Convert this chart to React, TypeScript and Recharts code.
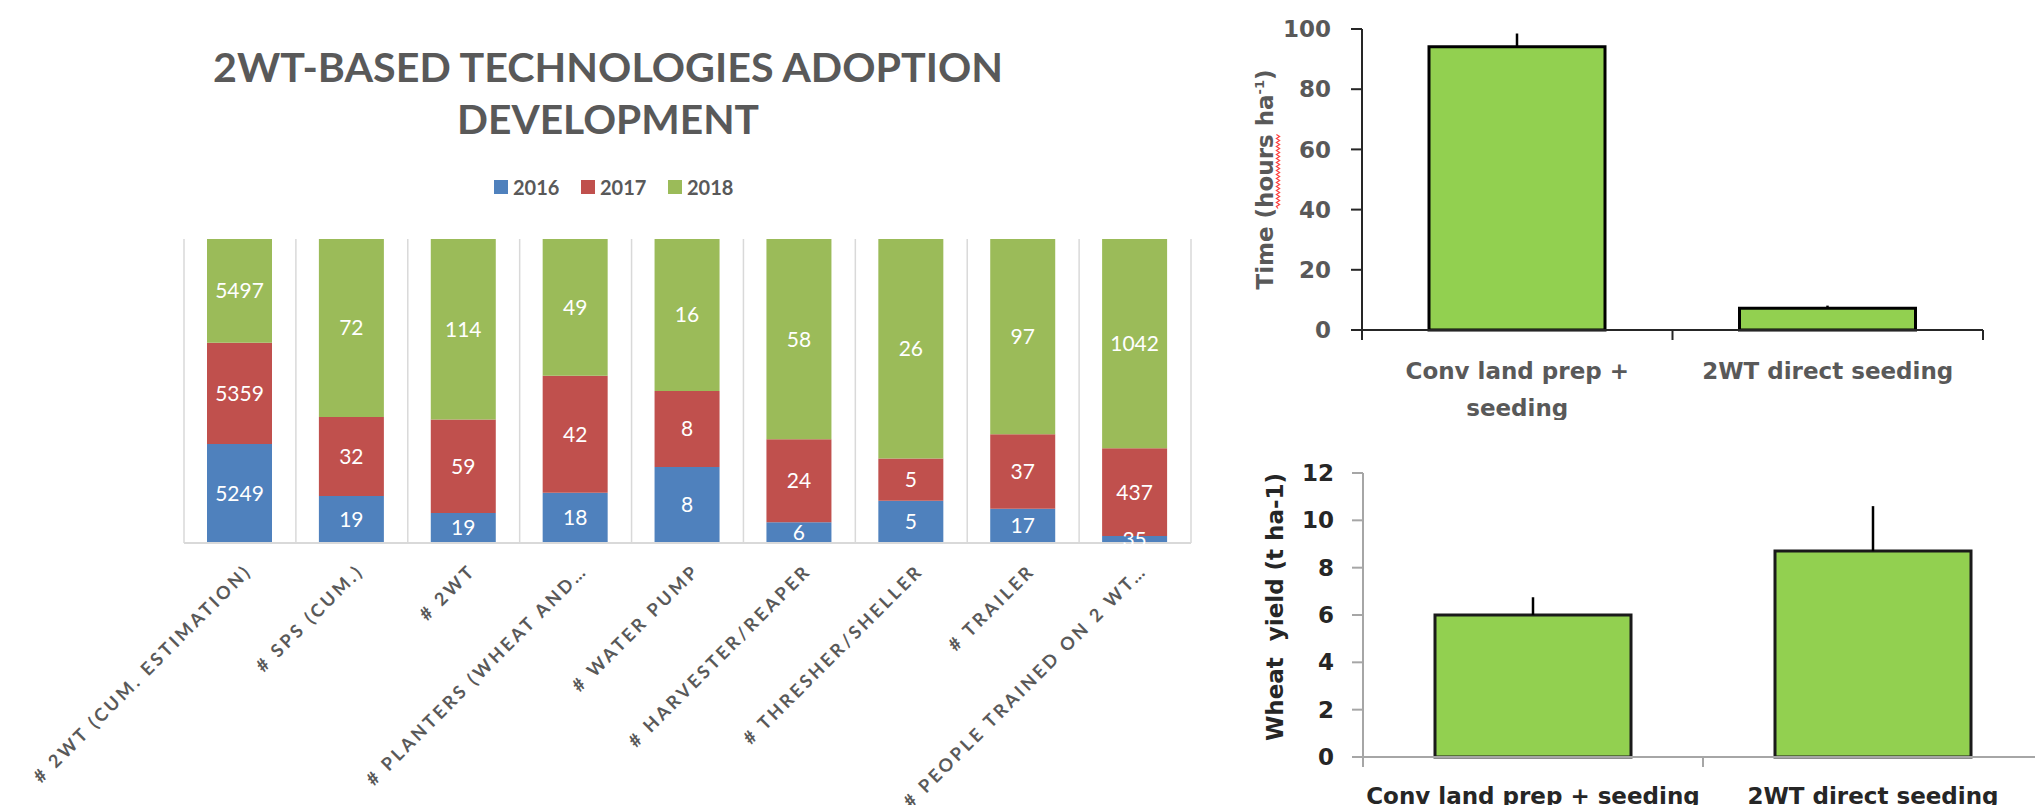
import React from 'react';
import { BarChart, Bar, XAxis, YAxis, CartesianGrid, LabelList, ErrorBar } from 'recharts';

// ---------- Chart 1: 2WT-based technologies adoption (100% stacked) ----------
const adoptionCategories = [
  '# 2WT (CUM. ESTIMATION)',
  '# SPS (CUM.)',
  '# 2WT',
  '# PLANTERS (WHEAT AND…',
  '# WATER PUMP',
  '# HARVESTER/REAPER',
  '# THRESHER/SHELLER',
  '# TRAILER',
  '# PEOPLE TRAINED ON 2 WT…',
];
const adoption2016 = [5249, 19, 19, 18, 8, 6, 5, 17, 35];
const adoption2017 = [5359, 32, 59, 42, 8, 24, 5, 37, 437];
const adoption2018 = [5497, 72, 114, 49, 16, 58, 26, 97, 1042];
const adoptionSeriesNames = ['2016', '2017', '2018'];
const adoptionSeriesKeys = ['s2016', 's2017', 's2018'];
const adoptionColors = ['#4F81BD', '#C0504D', '#9BBB59'];
const adoptionTitleLines = ['2WT-BASED TECHNOLOGIES ADOPTION', 'DEVELOPMENT'];

// ---------- Chart 2: time ----------
const methods = ['Conv land prep + seeding', '2WT direct seeding'];
const timeMeans = [94.1, 7.2];
const timeErrors = [4.4, 0.9];
const timeTicks = [0, 20, 40, 60, 80, 100];
const timeTickLines = [['Conv land prep +', 'seeding'], ['2WT direct seeding']];

// ---------- Chart 3: wheat yield ----------
const yieldMeans = [6.0, 8.7];
const yieldErrors = [0.75, 1.9];
const yieldTicks = [0, 2, 4, 6, 8, 10, 12];
const yieldTickLines = [['Conv land prep + seeding'], ['2WT direct seeding']];

const adoptionData = adoptionCategories.map((name, i) => ({
  name,
  s2016: adoption2016[i],
  s2017: adoption2017[i],
  s2018: adoption2018[i],
}));
const timeData = methods.map((name, i) => ({ name, value: timeMeans[i], err: [0, timeErrors[i]] }));
const yieldData = methods.map((name, i) => ({ name, value: yieldMeans[i], err: [0, yieldErrors[i]] }));

const RIGHT_FONT = 'DejaVu Sans, sans-serif';

function AdoptionTick(props: any) {
  const { x, y, payload } = props;
  return (
    <g transform={`translate(${x + 13},${y + 29})`}>
      <text
        transform="rotate(-45)"
        textAnchor="end"
        fontFamily="Lato, sans-serif"
        fontWeight={700}
        fontSize={18}
        letterSpacing={3.1}
        fill="#595959"
      >
        {payload.value}
      </text>
    </g>
  );
}

function MethodTick(props: any) {
  const { x, y, payload, index, lines, lineColor, textColor, firstBaseline, lineGap, count } = props;
  const half = payload && payload.offset ? payload.offset : 0;
  const myLines: string[] = lines[index] || [String(payload.value)];
  return (
    <g>
      <line x1={x - half} y1={y} x2={x - half} y2={y + 10} stroke={lineColor} strokeWidth={2} />
      {index === count - 1 ? (
        <line x1={x + half} y1={y} x2={x + half} y2={y + 10} stroke={lineColor} strokeWidth={2} />
      ) : null}
      <text
        x={x}
        y={y + firstBaseline}
        textAnchor="middle"
        fontFamily={RIGHT_FONT}
        fontWeight={700}
        fontSize={23}
        fill={textColor}
      >
        {myLines.map((l, i) => (
          <tspan key={i} x={x} dy={i === 0 ? 0 : lineGap}>
            {l}
          </tspan>
        ))}
      </text>
    </g>
  );
}

function wavyPath(x0: number, x1: number, y: number) {
  let d = `M${x0},${y}`;
  let up = true;
  for (let x = x0 + 2; x <= x1; x += 2) {
    d += ` L${x},${y + (up ? -1.6 : 1.6)}`;
    up = !up;
  }
  return d;
}

function TimeYLabel(props: any) {
  const vb = props.viewBox || {};
  const cx = vb.x + 11;
  const cy = vb.y + vb.height / 2;
  return (
    <g transform={`translate(${cx},${cy}) rotate(-90)`}>
      <text textAnchor="middle" fontFamily={RIGHT_FONT} fontWeight={700} fontSize={23} fill="#595959">
        Time (hours ha
        <tspan dy={-9} fontSize={13}>
          -1
        </tspan>
        <tspan dy={9}>)</tspan>
      </text>
      <path d={wavyPath(-29, 45, 5)} fill="none" stroke="#FF4040" strokeWidth={1.2} />
    </g>
  );
}

function YieldYLabel(props: any) {
  const vb = props.viewBox || {};
  const cx = vb.x + 20;
  const cy = vb.y + vb.height / 2 - 8;
  return (
    <text
      transform={`translate(${cx},${cy}) rotate(-90)`}
      textAnchor="middle"
      fontFamily={RIGHT_FONT}
      fontWeight={700}
      fontSize={23}
      fill="#262626"
      style={{ whiteSpace: 'pre' }}
    >
      {'Wheat  yield (t ha-1)'}
    </text>
  );
}

export default function App() {
  return (
    <div
      style={{
        position: 'absolute',
        left: 0,
        top: 0,
        width: 2035,
        height: 805,
        overflow: 'hidden',
        background: '#ffffff',
      }}
    >
      {/* Chart 1 */}
      <div style={{ position: 'absolute', left: 0, top: 0 }}>
        <BarChart
          width={1230}
          height={805}
          data={adoptionData}
          stackOffset="expand"
          margin={{ top: 239, right: 39, bottom: 0, left: 184 }}
          barSize={65}
        >
          <CartesianGrid
            horizontal={false}
            stroke="#D9D9D9"
            strokeWidth={1.5}
            verticalCoordinatesGenerator={({ offset }: any) =>
              Array.from({ length: adoptionCategories.length + 1 }, (_, i) =>
                offset.left + (i * offset.width) / adoptionCategories.length
              )
            }
          />
          <XAxis
            dataKey="name"
            height={262}
            interval={0}
            tickLine={false}
            tickSize={0}
            tickMargin={0}
            axisLine={{ stroke: '#D9D9D9', strokeWidth: 2 }}
            tick={<AdoptionTick />}
          />
          <YAxis hide domain={[0, 1]} />
          {adoptionSeriesKeys.map((k, i) => (
            <Bar key={k} dataKey={k} name={adoptionSeriesNames[i]} stackId="a" fill={adoptionColors[i]} isAnimationActive={false}>
              <LabelList dataKey={k} position="center" fill="#ffffff" fontSize={21} fontFamily="Lato, sans-serif" />
            </Bar>
          ))}
        </BarChart>
      </div>

      {/* Title and legend of chart 1 */}
      <svg style={{ position: 'absolute', left: 0, top: 0 }} width={1230} height={230}>
        <text
          x={608}
          y={82}
          textAnchor="middle"
          textLength={790}
          lengthAdjust="spacingAndGlyphs"
          fontFamily="Lato, sans-serif"
          fontWeight={700}
          fontSize={40}
          fill="#595959"
        >
          {adoptionTitleLines[0]}
        </text>
        <text
          x={608}
          y={134}
          textAnchor="middle"
          textLength={302}
          lengthAdjust="spacingAndGlyphs"
          fontFamily="Lato, sans-serif"
          fontWeight={700}
          fontSize={40}
          fill="#595959"
        >
          {adoptionTitleLines[1]}
        </text>
        {adoptionSeriesNames.map((n, i) => (
          <g key={n}>
            <rect x={494 + i * 87} y={180} width={14} height={14} fill={adoptionColors[i]} />
            <text x={494 + i * 87 + 19} y={195} fontFamily="Lato, sans-serif" fontWeight={700} fontSize={20} fill="#595959">
              {n}
            </text>
          </g>
        ))}
      </svg>

      {/* Chart 2: time */}
      <div style={{ position: 'absolute', left: 1230, top: 0 }}>
        <BarChart width={805} height={420} data={timeData} margin={{ top: 29, right: 52, bottom: 0, left: 32 }} barSize={176}>
          <XAxis
            dataKey="name"
            height={90}
            interval={0}
            tickLine={false}
            tickSize={0}
            tickMargin={0}
            axisLine={{ stroke: '#262626', strokeWidth: 2 }}
            tick={(p: any) => (
              <MethodTick
                {...p}
                lines={timeTickLines}
                lineColor="#262626"
                textColor="#595959"
                firstBaseline={49}
                lineGap={37}
                count={methods.length}
              />
            )}
          />
          <YAxis
            width={100}
            domain={[0, 100]}
            ticks={timeTicks}
            interval={0}
            tickSize={11}
            tickMargin={20}
            axisLine={{ stroke: '#262626', strokeWidth: 2 }}
            tickLine={{ stroke: '#262626', strokeWidth: 2 }}
            tick={{ fill: '#595959', fontFamily: RIGHT_FONT, fontWeight: 700, fontSize: 23 }}
            label={{ content: (p: any) => <TimeYLabel {...p} /> }}
          />
          <Bar dataKey="value" fill="#92D050" stroke="#000000" strokeWidth={3} isAnimationActive={false}>
            <ErrorBar dataKey="err" direction="y" width={0} stroke="#000000" strokeWidth={2.5} />
          </Bar>
        </BarChart>
      </div>

      {/* Chart 3: wheat yield */}
      <div style={{ position: 'absolute', left: 1230, top: 420 }}>
        <BarChart width={813} height={385} data={yieldData} margin={{ top: 53, right: 0, bottom: 0, left: 33 }} barSize={196}>
          <XAxis
            dataKey="name"
            height={48}
            interval={0}
            tickLine={false}
            tickSize={0}
            tickMargin={0}
            axisLine={{ stroke: '#A6A6A6', strokeWidth: 2 }}
            tick={(p: any) => (
              <MethodTick
                {...p}
                lines={yieldTickLines}
                lineColor="#A6A6A6"
                textColor="#262626"
                firstBaseline={47}
                lineGap={37}
                count={methods.length}
              />
            )}
          />
          <YAxis
            width={100}
            domain={[0, 12]}
            ticks={yieldTicks}
            interval={0}
            tickSize={11}
            tickMargin={18}
            axisLine={{ stroke: '#A6A6A6', strokeWidth: 2 }}
            tickLine={{ stroke: '#A6A6A6', strokeWidth: 2 }}
            tick={{ fill: '#262626', fontFamily: RIGHT_FONT, fontWeight: 700, fontSize: 23 }}
            label={{ content: (p: any) => <YieldYLabel {...p} /> }}
          />
          <Bar dataKey="value" fill="#92D050" stroke="#1a1a1a" strokeWidth={3} isAnimationActive={false}>
            <ErrorBar dataKey="err" direction="y" width={0} stroke="#000000" strokeWidth={2.5} />
          </Bar>
        </BarChart>
      </div>
    </div>
  );
}
